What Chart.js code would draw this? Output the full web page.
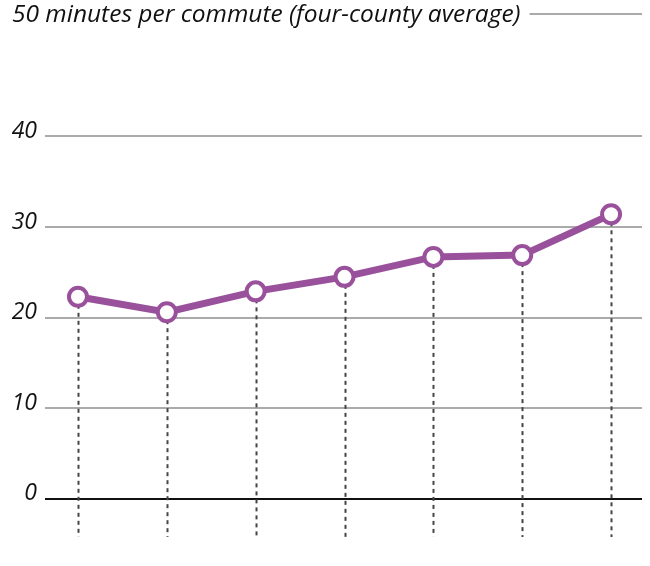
<!DOCTYPE html>
<html>
<head>
<meta charset="utf-8">
<script src="https://cdn.jsdelivr.net/npm/chart.js@4/dist/chart.umd.min.js"></script>
<style>
  html, body { margin: 0; padding: 0; background: #fff; }
  #wrap { width: 650px; height: 566px; }
</style>
</head>
<body>
<div id="wrap"><canvas id="myChart" width="650" height="566"></canvas></div>
<script>
// values
const periods = [0, 1, 2, 3, 4, 5, 6];
const minutes = [22.3, 20.6, 22.9, 24.5, 26.7, 26.9, 31.4];
const yTicks = [0, 10, 20, 30, 40];
const topLabel = '50 minutes per commute (four-county average)';

const purple = '#9a519c';
const font = '"Open Sans", "DejaVu Sans", sans-serif';

// dashed drop lines from each point down below the zero line
const dropLines = {
  id: 'dropLines',
  beforeDatasetsDraw(chart) {
    const ctx = chart.ctx, x = chart.scales.x, y = chart.scales.y;
    ctx.save();
    ctx.strokeStyle = '#444';
    ctx.lineWidth = 2;
    ctx.setLineDash([4, 4]);
    periods.forEach((p, i) => {
      const px = Math.round(x.getPixelForValue(p)) + 0.5;
      ctx.beginPath();
      ctx.moveTo(px, y.getPixelForValue(minutes[i]));
      ctx.lineTo(px, chart.chartArea.bottom);
      ctx.stroke();
    });
    ctx.restore();
  }
};

// title text at the top with its own rule
const topRule = {
  id: 'topRule',
  afterDraw(chart) {
    const ctx = chart.ctx, a = chart.chartArea;
    ctx.save();
    ctx.font = 'italic 24.5px ' + font;
    ctx.fillStyle = '#111';
    ctx.textBaseline = 'middle';
    ctx.fillText(topLabel, 12, a.top + 1);
    const w = ctx.measureText(topLabel).width;
    ctx.strokeStyle = '#aaa';
    ctx.lineWidth = 2;
    ctx.beginPath();
    ctx.moveTo(12 + w + 9, a.top);
    ctx.lineTo(a.right, a.top);
    ctx.stroke();
    ctx.restore();
  }
};

const ctx = document.getElementById('myChart');
const myChart = new Chart(ctx, {
  type: 'line',
  data: {
    datasets: [{
      data: periods.map((p, i) => ({ x: p, y: minutes[i] })),
      borderColor: purple,
      borderWidth: 7,
      pointRadius: 9,
      pointBorderWidth: 4,
      pointBackgroundColor: '#fff',
      pointBorderColor: purple,
      tension: 0,
      clip: false
    }]
  },
  options: {
    responsive: false,
    animation: false,
    layout: { autoPadding: false, padding: { left: 0, right: 8, top: 14, bottom: 29 } },
    plugins: { legend: { display: false }, tooltip: { enabled: false } },
    scales: {
      x: {
        type: 'linear',
        display: false,
        min: -0.371,
        max: 6.348
      },
      y: {
        min: -4.2,
        max: 53.5,
        afterBuildTicks(scale) { scale.ticks = yTicks.map(v => ({ value: v })); },
        afterFit(scale) {
          scale.width = 45;
          scale.paddingTop = 0;
          scale.paddingBottom = 0;
        },
        border: { display: false },
        grid: {
          drawTicks: false,
          lineWidth: 2,
          color: c => c.tick && c.tick.value === 0 ? '#111' : '#aaa'
        },
        ticks: {
          padding: 8,
          labelOffset: -5,
          color: '#111',
          font: { family: font, size: 23, style: 'italic' }
        }
      }
    }
  },
  plugins: [dropLines, topRule]
});
</script>
</body>
</html>
